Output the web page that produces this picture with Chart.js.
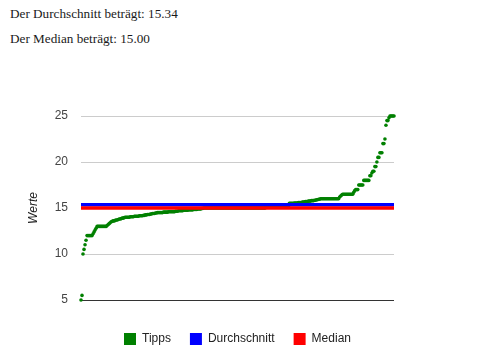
<!DOCTYPE html>
<html><head><meta charset="utf-8">
<script src="https://cdn.jsdelivr.net/npm/chart.js@4"></script>
<style>
html,body{margin:0;padding:0;background:#fff;}
#wrap{position:relative;width:479px;height:355px;overflow:hidden;}
.info{position:absolute;left:10px;font-family:"Liberation Serif",serif;font-size:13.2px;line-height:13px;color:#1a1a1a;white-space:nowrap;}
#c{position:absolute;left:0;top:0;}
</style></head><body>
<div id="wrap">
<div class="info" id="l1" style="top:7px"></div>
<div class="info" id="l2" style="top:32px"></div>
<canvas id="c" width="479" height="355"></canvas>
</div>
<script>
// Series names (legend)
const seriesNames = ['Tipps', 'Durchschnitt', 'Median'];
// Summary values
const meanValue = 15.34;
const medianValue = 15.00;
// Y axis tick values
const yTickValues = [5, 10, 15, 20, 25];
// Sorted tip values
const tipps = [
  5, 5.5, 10, 10.5, 11, 11.5, 12,
  12, 12, 12, 12, 12,
  12.2, 12.4, 12.6, 12.8, 13,
  13, 13, 13, 13, 13, 13, 13, 13, 13,
  13.1, 13.2, 13.3, 13.4, 13.5,
  13.55, 13.6, 13.6, 13.65, 13.7, 13.7, 13.75, 13.8, 13.8, 13.85, 13.9, 13.9, 13.95, 14, 14,
  14, 14, 14, 14.05, 14.05, 14.05, 14.05, 14.1, 14.1, 14.1, 14.1, 14.1, 14.15, 14.15, 14.15, 14.15,
  14.2, 14.2, 14.25, 14.25, 14.3, 14.3, 14.3, 14.35, 14.35, 14.4, 14.4, 14.4, 14.45, 14.45, 14.5, 14.5, 14.5,
  14.5, 14.5, 14.5, 14.55, 14.55, 14.55, 14.55, 14.55, 14.6, 14.6, 14.6, 14.6, 14.6, 14.6, 14.6, 14.65, 14.65,
  14.65, 14.7, 14.7, 14.7, 14.7, 14.7, 14.75, 14.75, 14.75, 14.75, 14.75, 14.8, 14.8, 14.8, 14.8, 14.8, 14.85, 14.85, 14.85, 14.85,
  14.9, 14.9, 14.9, 14.9, 14.95, 14.95, 15, 15,
  15, 15, 15, 15, 15, 15, 15, 15, 15, 15, 15, 15, 15, 15, 15, 15, 15, 15, 15, 15,
  15, 15, 15, 15, 15, 15, 15, 15, 15, 15, 15, 15, 15, 15, 15, 15, 15, 15, 15, 15,
  15, 15, 15, 15, 15, 15, 15, 15, 15, 15, 15, 15, 15, 15, 15, 15, 15, 15, 15, 15,
  15.2, 15.2, 15.2, 15.2, 15.2, 15.2, 15.2, 15.2, 15.2, 15.2, 15.2, 15.2,
  15.2, 15.2, 15.2, 15.2, 15.2, 15.2, 15.2, 15.2, 15.2, 15.2, 15.2,
  15.5, 15.5, 15.5, 15.5, 15.5, 15.55, 15.55, 15.55, 15.55, 15.6, 15.6, 15.6, 15.6, 15.65, 15.65, 15.65, 15.7, 15.7, 15.7, 15.75, 15.75, 15.75, 15.8, 15.8,
  15.8, 15.85, 15.85, 15.9, 15.9, 15.95, 15.95, 16, 16, 16,
  16, 16, 16, 16, 16, 16, 16, 16, 16, 16, 16, 16, 16, 16, 16, 16,
  16.2, 16.3, 16.4,
  16.5, 16.5, 16.5, 16.5, 16.5, 16.5, 16.5, 16.5, 16.5, 16.5, 16.5,
  16.7, 16.9, 17, 17, 17,
  17.5, 17.5, 17.5, 17.5, 17.5,
  18, 18, 18, 18, 18, 18,
  18.5, 18.5, 18.8, 19, 19, 19.5, 19.5,
  20, 20.5, 20.5, 21, 21, 21,
  22, 22, 22.5, 24, 24.5, 24.5, 24.8,
  25, 25, 25, 25, 25
];

document.getElementById('l1').textContent = 'Der Durchschnitt beträgt: ' + meanValue.toFixed(2);
document.getElementById('l2').textContent = 'Der Median beträgt: ' + medianValue.toFixed(2);

const N = tipps.length;
const sansFont = "'Liberation Sans', Arial, sans-serif";

new Chart(document.getElementById('c'), {
  type: 'scatter',
  data: {
    datasets: [
      {
        label: seriesNames[0],
        data: tipps.map((v, i) => ({x: i, y: v})),
        backgroundColor: '#008000',
        borderColor: '#008000',
        pointRadius: 1.8,
        pointBorderWidth: 0,
        showLine: false,
        order: 3,
        clip: false
      },
      {
        label: seriesNames[1],
        type: 'line',
        data: [{x: 0, y: meanValue}, {x: N - 1, y: meanValue}],
        borderColor: '#0000ff',
        backgroundColor: '#0000ff',
        borderWidth: 3.5,
        pointRadius: 0,
        order: 2,
        clip: false
      },
      {
        label: seriesNames[2],
        type: 'line',
        data: [{x: 0, y: medianValue}, {x: N - 1, y: medianValue}],
        borderColor: '#ff0000',
        backgroundColor: '#ff0000',
        borderWidth: 3.5,
        pointRadius: 0,
        order: 1,
        clip: false
      }
    ]
  },
  options: {
    responsive: false,
    animation: false,
    devicePixelRatio: 1,
    events: [],
    layout: {padding: {top: 116, right: 85, bottom: 0, left: 0}},
    plugins: {
      tooltip: {enabled: false},
      legend: {
        position: 'bottom',
        fullSize: false,
        labels: {
          boxWidth: 12,
          boxHeight: 12,
          padding: 19,
          color: '#222',
          font: {family: sansFont, size: 12},
          sort: (a, b) => a.datasetIndex - b.datasetIndex,
          generateLabels: (chart) => Chart.defaults.plugins.legend.labels.generateLabels(chart)
            .map(l => Object.assign(l, {lineWidth: 0, strokeStyle: 'rgba(0,0,0,0)'}))
        }
      }
    },
    scales: {
      x: {
        type: 'linear',
        min: 0,
        max: N - 1,
        display: true,
        ticks: {display: false},
        grid: {display: false},
        border: {display: false},
        afterFit: (s) => { s.height = 14; }
      },
      y: {
        min: 5,
        max: 25,
        afterBuildTicks: (s) => { s.ticks = yTickValues.map(v => ({value: v})); },
        ticks: {padding: 13, color: '#444', font: {family: sansFont, size: 12}},
        grid: {
          drawTicks: false,
          lineWidth: 1,
          color: (c) => (c.tick && c.tick.value === yTickValues[0]) ? '#333' : '#ccc'
        },
        border: {display: false},
        title: {
          display: true,
          text: 'Werte',
          color: '#222',
          font: {family: sansFont, size: 12, style: 'italic'},
          padding: {top: 26, bottom: 0}
        },
        afterFit: (s) => { s.width = 81; }
      }
    }
  }
});
</script>
</body></html>
